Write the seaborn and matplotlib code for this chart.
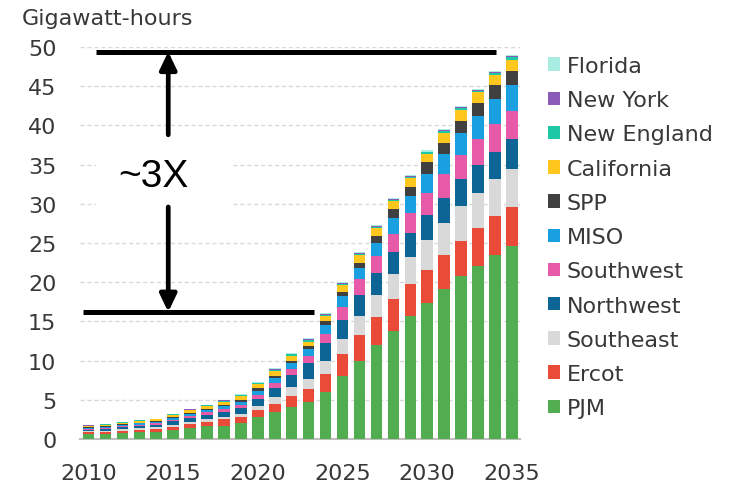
import matplotlib
matplotlib.use("Agg")
import matplotlib.pyplot as plt
from matplotlib.patches import Patch, Rectangle
import numpy as np
import pandas as pd
import seaborn as sns

# Annual data-center electricity demand by region, 2010-2035 (GWh, thousands scale)
years = list(range(2010, 2036))

pjm = [0.62, 0.68, 0.78, 0.88, 0.95, 1.15, 1.40, 1.60, 1.70, 2.00, 2.76, 3.40, 4.04,
       4.68, 6.00, 8.00, 10.0, 12.0, 13.8, 15.65, 17.4, 19.1, 20.75, 22.1, 23.5, 24.6]
ercot = [0.22, 0.24, 0.27, 0.30, 0.33, 0.42, 0.50, 0.60, 0.80, 0.75, 1.00, 1.06, 1.50,
         1.70, 2.30, 2.85, 3.30, 3.50, 4.00, 4.15, 4.20, 4.40, 4.55, 4.80, 4.90, 5.00]
southeast = [0.15, 0.16, 0.18, 0.20, 0.22, 0.27, 0.30, 0.32, 0.30, 0.45, 0.50, 0.85, 1.06,
             1.27, 1.60, 1.95, 2.40, 2.90, 3.25, 3.40, 3.80, 4.05, 4.40, 4.50, 4.70, 4.90]
northwest = [0.22, 0.24, 0.27, 0.30, 0.33, 0.42, 0.50, 0.60, 0.70, 0.75, 0.85, 1.15, 1.57,
             2.05, 2.30, 2.40, 2.70, 2.80, 2.85, 3.10, 3.20, 3.25, 3.40, 3.50, 3.50, 3.80]
southwest = [0.12, 0.13, 0.14, 0.16, 0.17, 0.20, 0.25, 0.30, 0.35, 0.40, 0.50, 0.68, 0.77,
             0.85, 1.20, 1.70, 2.00, 2.10, 2.25, 2.50, 2.80, 3.00, 3.10, 3.40, 3.60, 3.60]
miso = [0.12, 0.13, 0.15, 0.17, 0.18, 0.22, 0.27, 0.30, 0.35, 0.40, 0.50, 0.60, 0.77,
        0.95, 1.10, 1.30, 1.40, 1.70, 2.00, 2.15, 2.45, 2.60, 2.80, 2.90, 3.20, 3.20]
spp = [0.05, 0.06, 0.07, 0.08, 0.09, 0.10, 0.12, 0.13, 0.15, 0.25, 0.35, 0.33, 0.30,
       0.30, 0.60, 0.60, 0.70, 0.90, 1.15, 1.25, 1.45, 1.40, 1.60, 1.70, 1.70, 1.80]
california = [0.17, 0.18, 0.20, 0.22, 0.24, 0.30, 0.34, 0.38, 0.40, 0.50, 0.55, 0.63, 0.60,
              0.60, 0.60, 0.80, 1.00, 1.00, 1.00, 1.05, 1.05, 1.20, 1.40, 1.30, 1.30, 1.50]
new_england = [0.05, 0.05, 0.05, 0.05, 0.05, 0.07, 0.07, 0.10, 0.12, 0.10, 0.10, 0.14, 0.17,
               0.20, 0.18, 0.18, 0.15, 0.20, 0.20, 0.22, 0.22, 0.25, 0.25, 0.25, 0.30, 0.30]
new_york = [0.02, 0.02, 0.02, 0.02, 0.02, 0.03, 0.03, 0.04, 0.06, 0.05, 0.05, 0.08, 0.10,
            0.12, 0.10, 0.10, 0.07, 0.10, 0.10, 0.10, 0.10, 0.12, 0.12, 0.12, 0.15, 0.10]
florida = [0.01, 0.01, 0.02, 0.02, 0.02, 0.02, 0.02, 0.03, 0.07, 0.05, 0.05, 0.08, 0.10,
           0.12, 0.12, 0.12, 0.08, 0.10, 0.10, 0.13, 0.13, 0.13, 0.13, 0.13, 0.15, 0.20]

# stacking order, bottom to top
regions = ["PJM", "Ercot", "Southeast", "Northwest", "Southwest", "MISO",
           "SPP", "California", "New England", "New York", "Florida"]
series = [pjm, ercot, southeast, northwest, southwest, miso,
          spp, california, new_england, new_york, florida]
colors = ["#52ad50", "#ea4a38", "#d9d9d9", "#0c6595", "#e65aa8", "#1a9fe0",
          "#404040", "#ffc61e", "#1cc8a6", "#8a5bb8", "#a9ece1"]

year_labels = [str(y) for y in years]
x_tick_years = [2010, 2015, 2020, 2025, 2030, 2035]
y_ticks = list(range(0, 51, 5))

text_color = "#383838"
grid_color = "#d9d9d9"
axis_color = "#bfbfbf"

sns.set_theme(style="white")
plt.rcParams["font.family"] = ["DejaVu Sans"]

fig = plt.figure(figsize=(7.29, 4.85), dpi=100)
ax = fig.add_axes([80 / 729, 45 / 485, 440.4 / 729, 392 / 485])

# cumulative stack, drawn from the tallest layer downward so each lower layer sits on top
df = pd.DataFrame(dict(zip(regions, series)), index=year_labels)
cum = df.cumsum(axis=1)
for name, color in zip(regions[::-1], colors[::-1]):
    sns.barplot(x=cum.index, y=cum[name].values, color=color, saturation=1,
                width=0.68, errorbar=None, linewidth=0, edgecolor="none",
                ax=ax, zorder=3)

ax.set_xlim(-0.5, len(years) - 0.5)
ax.set_ylim(0, 50)
ax.set_xlabel("")
ax.set_ylabel("")

# y axis: dashed gridlines, no ticks
ax.set_yticks(y_ticks)
ax.set_yticklabels([str(v) for v in y_ticks])
ax.yaxis.grid(True, color=grid_color, linestyle=(0, (3, 2)), linewidth=1.0, zorder=0)
ax.xaxis.grid(False)
ax.set_axisbelow(True)
ax.tick_params(axis="y", length=0, pad=17, labelsize=16, labelcolor=text_color)

# x axis: labels at bar centres, tick marks at category boundaries
major_pos = [years.index(y) for y in x_tick_years]
ax.set_xticks(major_pos)
ax.set_xticklabels([str(y) for y in x_tick_years])
ax.set_xticks([p - 0.5 for p in major_pos], minor=True)
ax.tick_params(axis="x", which="major", length=0, pad=17, labelsize=16, labelcolor=text_color)
ax.tick_params(axis="x", which="minor", length=5, width=1.2, color=axis_color, direction="out")

for side in ["left", "right", "top"]:
    ax.spines[side].set_visible(False)
ax.spines["bottom"].set_color(axis_color)
ax.spines["bottom"].set_linewidth(1.5)

# growth annotation: reference levels and double arrow
level_now = 16.2
level_2035 = 49.4
arrow_x = 4.71
ax.plot([0.45, 24.06], [level_2035, level_2035], color="black", lw=3.6,
        solid_capstyle="butt", zorder=5, clip_on=False)
ax.plot([-0.34, 13.33], [level_now, level_now], color="black", lw=3.6,
        solid_capstyle="butt", zorder=5, clip_on=False)
ax.add_patch(Rectangle((0.45, 29.6), 8.1, 9.2, facecolor="white", edgecolor="none", zorder=2))
arrow_style = dict(arrowstyle="-|>,head_length=0.75,head_width=0.36", color="black",
                   lw=3.4, shrinkA=0, shrinkB=0, mutation_scale=14)
ax.annotate("", xy=(arrow_x, level_2035), xytext=(arrow_x, 38.8),
            arrowprops=arrow_style, zorder=6)
ax.annotate("", xy=(arrow_x, level_now), xytext=(arrow_x, 29.6),
            arrowprops=arrow_style, zorder=6)
ax.text(3.82, 33.6, "~3X", ha="center", va="center", fontsize=28,
        family=["Liberation Sans", "DejaVu Sans"], color="black", zorder=6)

# unit label
fig.text(22 / 729, 1 - 19 / 485, "Gigawatt-hours", ha="left", va="center",
         fontsize=16, color=text_color)

# legend, top entry is the top of the stack
handles = [Patch(facecolor=c, edgecolor="none") for c in colors[::-1]]
fig.legend(handles, regions[::-1], loc="upper left",
           bbox_to_anchor=(548 / 729, 1 - 57 / 485), bbox_transform=fig.transFigure,
           frameon=False, fontsize=16, handlelength=0.55, handleheight=0.55,
           handletextpad=0.3, labelspacing=0.64, borderpad=0, borderaxespad=0,
           labelcolor=text_color)

fig.savefig("out.png", dpi=100)
